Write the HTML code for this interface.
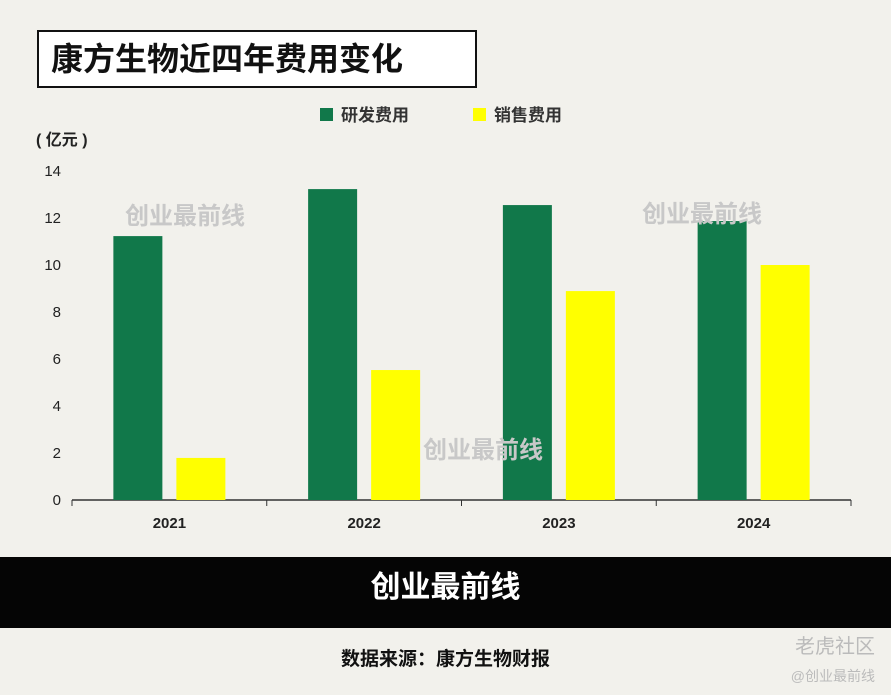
<!DOCTYPE html>
<html><head><meta charset="utf-8">
<style>
body{margin:0;width:891px;height:695px;background:#f2f1ec;font-family:"Liberation Sans","Noto Sans CJK SC",sans-serif;overflow:hidden;position:relative}
.title{position:absolute;left:37px;top:30px;width:436px;height:54px;border:2px solid #111;background:#fff;font-size:32px;font-weight:bold;line-height:54px;text-indent:12px;color:#111}
.banner{position:absolute;left:0;top:557px;width:891px;height:71px;background:#050505;color:#fff;text-align:center;font-size:30px;font-weight:bold;line-height:62px}
.src{position:absolute;left:0;width:891px;top:644px;text-align:center;font-size:19px;font-weight:bold;color:#111}
.wm{position:absolute;font-size:24px;font-weight:bold;color:#c8c8c8}
.corner{position:absolute;right:16px;color:#bbb}
</style></head><body>
<div class="title">康方生物近四年费用变化</div>
<svg id="chart" width="891" height="557" style="position:absolute;left:0;top:0"></svg>
<div class="wm" style="left:125px;top:196px">创业最前线</div>
<div class="wm" style="left:642px;top:194px">创业最前线</div>
<div class="wm" style="left:423px;top:430px">创业最前线</div>
<div class="banner">创业最前线</div>
<div class="src">数据来源：康方生物财报</div>
<div class="corner" style="top:630px;font-size:20px">老虎社区</div>
<div class="corner" style="top:666px;font-size:14px">@创业最前线</div>
<script>
const categories=["2021","2022","2023","2024"];
const rdValues=[11.23,13.23,12.55,11.87];
const salesValues=[1.79,5.53,8.89,10.0];
const yTicks=[0,2,4,6,8,10,12,14];
const seriesNames=["研发费用","销售费用"];
const svg=document.getElementById('chart');
const NS='http://www.w3.org/2000/svg';
const x0=72,x1=851,y0=500,yTop=171,yMax=14;
const bw=(x1-x0)/categories.length;
function y(v){return y0-(v/yMax)*(y0-yTop);}
function xc(i){return x0+bw*(i+0.5);}
function mk(t,a,txt){const e=document.createElementNS(NS,t);for(const k in a)e.setAttribute(k,a[k]);if(txt!==undefined)e.textContent=txt;svg.appendChild(e);return e;}
yTicks.forEach(t=>{
  const e=mk('text',{x:61,y:y(t)+5,'text-anchor':'end','font-size':15,fill:'#222','font-family':'Liberation Sans'},t);
  
  
});
let u=mk('text',{x:36,y:145,'font-size':16,'font-weight':'bold',fill:'#222'},'( 亿元 )');


let ax=mk('line',{x1:x0,y1:y0,x2:x1,y2:y0,stroke:'#333','stroke-width':1.5});


for(let i=0;i<=categories.length;i++){
  const t=mk('line',{x1:x0+bw*i,y1:y0,x2:x0+bw*i,y2:y0+6,stroke:'#333'});
  
  
}
categories.forEach((c,i)=>{
  const l=mk('text',{x:xc(i),y:528,'text-anchor':'middle','font-size':15,'font-weight':'bold',fill:'#222'},c);
  
  
  const g=mk('rect',{x:xc(i)-56,y:y(rdValues[i]),width:49,height:y0-y(rdValues[i]),fill:'#11784a'});
  
  
  const s=mk('rect',{x:xc(i)+7,y:y(salesValues[i]),width:49,height:y0-y(salesValues[i]),fill:'#ffff00'});
  
  
});
[['#11784a',320],['#ffff00',473]].forEach((d,i)=>{
  const r=mk('rect',{x:d[1],y:108,width:13,height:13,fill:d[0]});
  
  
  const t=mk('text',{x:d[1]+21,y:121,'font-size':17,'font-weight':'bold',fill:'#333'},seriesNames[i]);
  
  
});
</script>
</body></html>
